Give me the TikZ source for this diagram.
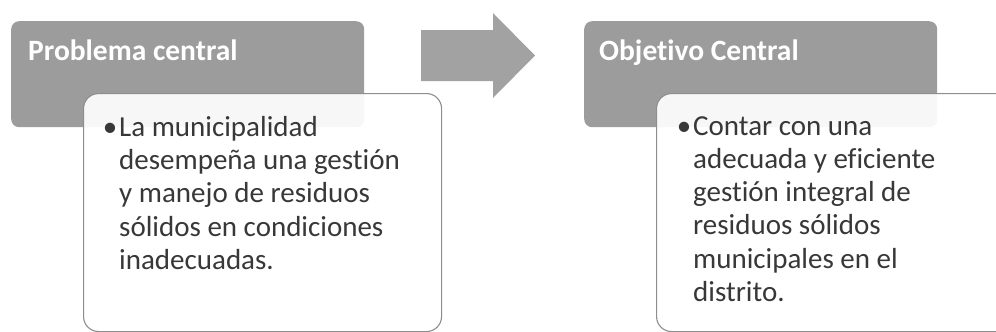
\documentclass[tikz,border=0pt]{standalone}
\usepackage{fontspec}
\setmainfont{Carlito}[Ligatures=NoCommon]
\usetikzlibrary{positioning}
\definecolor{cajagris}{HTML}{9C9C9C}
\definecolor{flechagris}{HTML}{A2A2A2}
\definecolor{bordegris}{HTML}{8E8E8E}
\definecolor{textogris}{HTML}{383838}
\tikzset{
	cabecera/.style={anchor=north west, fill=cajagris, rounded corners=8pt, minimum width=353pt, minimum height=106pt, inner sep=0pt},
	cuerpo/.style={anchor=north west, draw=bordegris, line width=1.1pt, fill=white, fill opacity=0.92, rounded corners=15pt, minimum width=358pt, minimum height=238pt, inner sep=0pt},
	titulo/.style={anchor=base west, inner sep=0pt, text=white, font=\fontsize{29.5}{32}\selectfont\bfseries},
	vineta/.style={anchor=north west, inner sep=0pt, align=left, text=textogris, font=\fontsize{29}{33.3}\selectfont}
}
\newcommand{\punto}{\makebox[0pt][r]{\textbullet\hspace{2pt}}}

\begin{document}
\begin{tikzpicture}[x=1pt, y=-1pt]
	%%%%% START %%%%%
	\useasboundingbox (0, 0) rectangle (996, 332);
	
	% problema
	\node[cabecera] (probCaja) at (11, 21) {};
	\node[titulo] (probTitulo) at (28, 60) {Problema central};
	\node[cuerpo] (probCuerpo) at (83, 93) {};
	\node[vineta] (probTexto) at (119, 116) {\punto La municipalidad\\desempeña una gestión\\y manejo de residuos\\sólidos en condiciones\\inadecuadas.};
	
	% flecha
	\fill[flechagris] (421, 30) -- (493, 30) -- (493, 13) -- (535, 55.5) -- (493, 98) -- (493, 81) -- (421, 81) -- cycle;
	
	% objetivo
	\node[cabecera] (objCaja) at (584, 21) {};
	\node[titulo] (objTitulo) at (599, 60) {Objetivo Central};
	\node[cuerpo] (objCuerpo) at (656, 93) {};
	\node[vineta] (objTexto) at (693, 116) {\punto Contar con una\\adecuada y eficiente\\gestión integral de\\residuos sólidos\\municipales en el\\distrito.};
	
	%%%%% END %%%%%
\end{tikzpicture}
\end{document}
